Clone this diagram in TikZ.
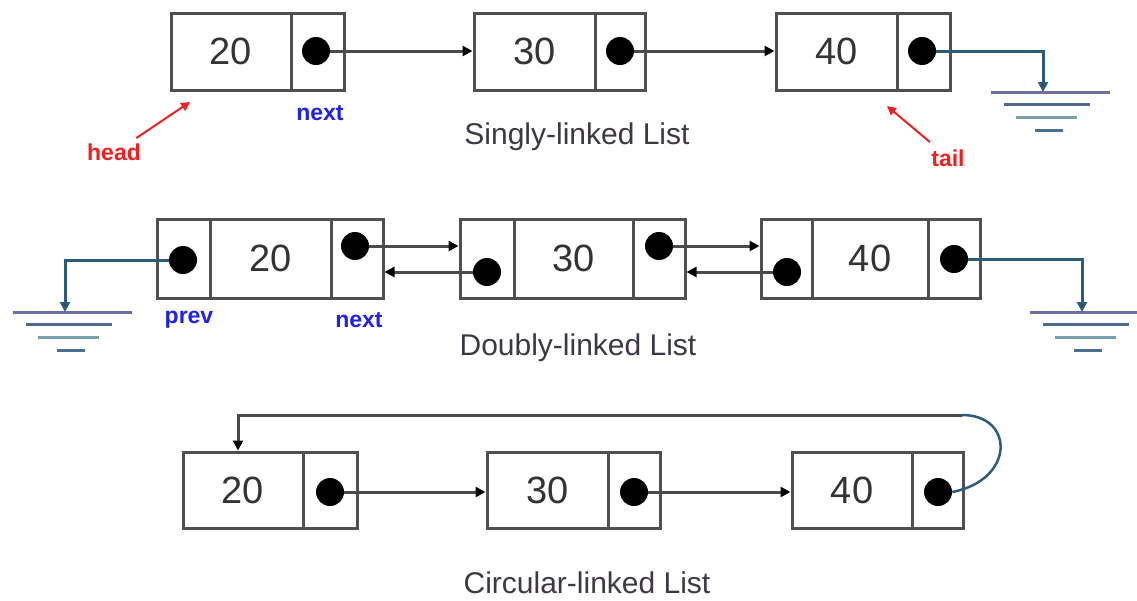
\documentclass[tikz,border=0pt]{standalone}
\usepackage{fontspec}
\setmainfont{Liberation Sans}
\usetikzlibrary{arrows.meta}
\definecolor{boxgray}{HTML}{505050}
\definecolor{linkgray}{HTML}{4A4A4A}
\definecolor{wireblue}{HTML}{2C5C7C}
\definecolor{gA}{HTML}{6E6EA0}
\definecolor{gB}{HTML}{4A6A90}
\definecolor{gC}{HTML}{7AA0B0}
\definecolor{gD}{HTML}{4A7090}
\definecolor{titlecol}{HTML}{3E3844}
\definecolor{lblblue}{HTML}{2020F0}
\definecolor{lblred}{HTML}{F02020}
\definecolor{digitcol}{HTML}{333333}
\tikzset{
  cell/.style={draw=boxgray, line width=3pt, inner sep=0pt, minimum width=#1,
    font=\fontsize{38}{40}\selectfont, text=digitcol},
  dotnode/.style={circle, fill=black, minimum size=28pt, inner sep=0pt},
  link/.style={draw=linkgray, line width=3pt, -{Triangle[length=10pt,width=10pt,black]}},
  wire/.style={draw=wireblue, line width=3pt, -{Triangle[length=10pt,width=10pt,fill=wireblue!60!black]}},
  title/.style={font=\fontsize{30}{32}\selectfont, text=titlecol, inner sep=1pt},
  lbl/.style={font=\bfseries\fontsize{23}{25}\selectfont, text=lblblue},
  rlbl/.style={font=\bfseries\fontsize{23}{25}\selectfont, text=lblred},
  rarrow/.style={draw=lblred, line width=2pt, -{Triangle[length=9pt,width=9pt]}},
  gnd/.pic={
    \draw[gA, line width=3pt] (-52,0) -- (67,0);
    \draw[gB, line width=3pt] (-39,12) -- (47,12);
    \draw[gC, line width=3pt] (-27,25) -- (34,25);
    \draw[gD, line width=3pt] (-8,38) -- (20,38);
  }
}
\begin{document}
\begin{tikzpicture}[x=1pt,y=-1pt]
\useasboundingbox[fill=white] (0,0) rectangle (1137,600);

% ---------- Singly-linked list ----------
\begin{scope}[every node/.append style={minimum height=77pt}]
\node[cell=120pt] (s1d) at (231,51.5) {20};
\node[cell=53pt]  (s1p) at (317.5,51.5) {};
\node[cell=121pt] (s2d) at (534.5,51.5) {30};
\node[cell=50pt]  (s2p) at (620,51.5) {};
\node[cell=121pt] (s3d) at (836.5,51.5) {40};
\node[cell=53pt]  (s3p) at (923.5,51.5) {};
\end{scope}
\node[dotnode] (s1n) at (316,51) {};
\node[dotnode] (s2n) at (620,51) {};
\node[dotnode] (s3n) at (922,51) {};
\draw[link] (s1n.east) -- (s1n.east -| s2d.west);
\draw[link] (s2n.east) -- (s2n.east -| s3d.west);
\coordinate (sg) at (1043,92);
\draw[wire] (s3n.east) -| (sg);
\pic at (sg) {gnd};
\node[lbl] (snext) at (320,113) {next};
\node[title] (stitle) at (577,137) {Singly-linked List};
\node[rlbl] (head) at (114,152) {head};
\coordinate (headtip) at (190,102);
\draw[rarrow] (head.north east) ++(-8,-2) -- (headtip);
\node[rlbl] (tail) at (948,158) {tail};
\coordinate (tailtip) at (887,106);
\draw[rarrow] (tail.north west) ++(2,-4) -- (tailtip);

% ---------- Doubly-linked list ----------
\begin{scope}[every node/.append style={minimum height=79pt}]
\node[cell=53pt]  (d1v) at (183.5,258.5) {};
\node[cell=121pt] (d1d) at (270.5,258.5) {20};
\node[cell=52pt]  (d1x) at (357,258.5) {};
\node[cell=54pt]  (d2v) at (487,258.5) {};
\node[cell=119pt] (d2d) at (573.5,258.5) {30};
\node[cell=52pt]  (d2x) at (659,258.5) {};
\node[cell=51pt]  (d3v) at (786.5,258.5) {};
\node[cell=116pt] (d3d) at (870,258.5) {40};
\node[cell=52pt]  (d3x) at (954,258.5) {};
\end{scope}
\node[dotnode] (d1vn) at (183,260) {};
\node[dotnode] (d1xn) at (355,246) {};
\node[dotnode] (d2vn) at (487,272) {};
\node[dotnode] (d2xn) at (659,246) {};
\node[dotnode] (d3vn) at (787,272) {};
\node[dotnode] (d3xn) at (954,259) {};
\draw[link] (d1xn.east) -- (d1xn.east -| d2v.west);
\draw[link] (d2vn.west) -- (d2vn.west -| d1x.east);
\draw[link] (d2xn.east) -- (d2xn.east -| d3v.west);
\draw[link] (d3vn.west) -- (d3vn.west -| d2x.east);
\coordinate (dgl) at (65,312);
\draw[wire] (d1vn.west) -| (dgl);
\pic at (dgl) {gnd};
\coordinate (dgr) at (1082,312);
\draw[wire] (d3xn.east) -| (dgr);
\pic at (dgr) {gnd};
\node[lbl] (dprev) at (189,320) {prev};
\node[lbl] (dnext) at (359,320) {next};
\node[title] (dtitle) at (578,348) {Doubly-linked List};

% ---------- Circular-linked list ----------
\begin{scope}[every node/.append style={minimum height=76pt}]
\node[cell=120pt] (c1d) at (243,490) {20};
\node[cell=54pt]  (c1p) at (330,490) {};
\node[cell=121pt] (c2d) at (547.5,490) {30};
\node[cell=52pt]  (c2p) at (634,490) {};
\node[cell=120pt] (c3d) at (852,490) {40};
\node[cell=51pt]  (c3p) at (937.5,490) {};
\end{scope}
\node[dotnode] (c1n) at (330,492) {};
\node[dotnode] (c2n) at (634,492) {};
\node[dotnode] (c3n) at (938,492) {};
\draw[link] (c1n.east) -- (c1n.east -| c2d.west);
\draw[link] (c2n.east) -- (c2n.east -| c3d.west);
\coordinate (cr) at (962,415);
\coordinate (cl) at (238,415);
\draw[draw=wireblue, line width=2.5pt] (c3n.east) .. controls (1015,480) and (1015,415) .. (cr);
\draw[link] (cr) -- (cl) -- (cl |- c1d.north);
\node[title] (ctitle) at (587,583) {Circular-linked List};
\end{tikzpicture}
\end{document}
